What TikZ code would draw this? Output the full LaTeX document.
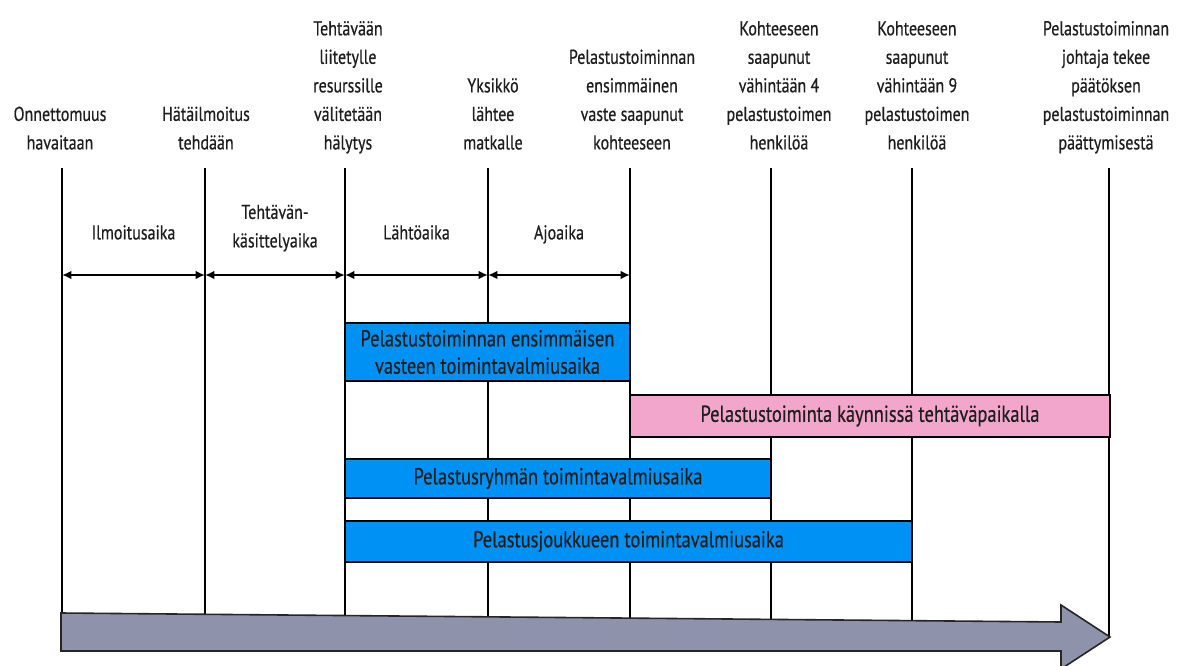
\documentclass[tikz,border=0pt]{standalone}
\usepackage{fontspec}
\setmainfont{PT Sans}[FakeStretch=0.8,FakeBold=0.5]
\usetikzlibrary{arrows.meta}
\definecolor{barblue}{RGB}{0,145,245}
\definecolor{barpink}{RGB}{243,166,204}
\definecolor{arrowgray}{RGB}{142,146,171}
\definecolor{txt}{RGB}{30,30,30}
\begin{document}
\begin{tikzpicture}[x=0.75pt,y=-0.75pt,
  lbl/.style={align=center, anchor=south, inner sep=0pt, text depth=0.25em,
    font=\fontsize{15}{21.4}\selectfont, text=txt},
  vline/.style={line width=1.6pt, black},
  dimarrow/.style={line width=1.6pt, black, {Latex[length=7pt,width=6.5pt]}-{Latex[length=7pt,width=6.5pt]}},
  barbase/.style={draw=black, line width=1.5pt, inner sep=0pt, align=center,
    font=\fontsize{17.3}{21.5}\selectfont, text=txt},
  bluebar/.style={barbase, fill=barblue},
  pinkbar/.style={barbase, fill=barpink},
  bigarrow/.style={draw=black!85, line width=1.2pt, fill=arrowgray, line join=miter}
]
\useasboundingbox (0,0) rectangle (1198,666);
\fill[white] (0,0) rectangle (1198,666);

% line tops and bottoms
\coordinate (t1) at (62,168);   \coordinate (e1) at (62,613);
\coordinate (t2) at (205,168);  \coordinate (e2) at (205,614.3);
\coordinate (t3) at (345,168);  \coordinate (e3) at (345,615.6);
\coordinate (t4) at (488,168);  \coordinate (e4) at (488,616.8);
\coordinate (t5) at (630,168);  \coordinate (e5) at (630,618.1);
\coordinate (t6) at (771,168);  \coordinate (e6) at (771,619.4);
\coordinate (t7) at (912,168);  \coordinate (e7) at (912,620.7);
\coordinate (t8) at (1109,168); \coordinate (e8) at (1109,636);

\foreach \i in {1,...,8} { \draw[vline] (t\i) -- (e\i); }

% top labels
\node[lbl] (l1) at (60,153) {Onnettomuus\\havaitaan};
\node[lbl] (l2) at (206,153) {Hätäilmoitus\\tehdään};
\node[lbl] (l3) at (348,153) {Tehtävään\\liitetylle\\resurssille\\välitetään\\hälytys};
\node[lbl] (l4) at (493,153) {Yksikkö\\lähtee\\matkalle};
\node[lbl] (l5) at (632,153) {Pelastustoiminnan\\ensimmäinen\\vaste saapunut\\kohteeseen};
\node[lbl] (l6) at (779,153) {Kohteeseen\\saapunut\\vähintään 4\\pelastustoimen\\henkilöä};
\node[lbl] (l7) at (917,153) {Kohteeseen\\saapunut\\vähintään 9\\pelastustoimen\\henkilöä};
\node[lbl] (l8) at (1106,153) {Pelastustoiminnan\\johtaja tekee\\päätöksen\\pelastustoiminnan\\päättymisestä};

% interval labels
\node[lbl] (i1) at (133.5,243) {Ilmoitusaika};
\node[lbl] (i2) at (275,251) {Tehtävän-\\käsittelyaika};
\node[lbl] (i3) at (416.5,243) {Lähtöaika};
\node[lbl] (i4) at (559,243) {Ajoaika};

% dimension arrows
\coordinate (d1) at (62,275);
\coordinate (d2) at (205,275);
\coordinate (d3) at (345,275);
\coordinate (d4) at (488,275);
\coordinate (d5) at (630,275);
\draw[dimarrow] (d1) -- (d2);
\draw[dimarrow] (d2) -- (d3);
\draw[dimarrow] (d3) -- (d4);
\draw[dimarrow] (d4) -- (d5);

% bars
\node[bluebar, minimum width=213.75pt, minimum height=43.5pt,
  font=\fontsize{17.3}{20.5}\selectfont] (b1) at (487.5,352)
  {Pelastustoiminnan ensimmäisen\\vasteen toimintavalmiusaika};
\node[pinkbar, minimum width=360pt, minimum height=31.5pt] (b2) at (870,416)
  {Pelastustoiminta käynnissä tehtäväpaikalla};
\node[bluebar, minimum width=319.5pt, minimum height=29.25pt] (b3) at (558,478.5)
  {Pelastusryhmän toimintavalmiusaika};
\node[bluebar, minimum width=425.25pt, minimum height=30.75pt] (b4) at (628.5,541.5)
  {Pelastusjoukkueen toimintavalmiusaika};

% time arrow
\draw[bigarrow] (61,613) -- (1061,622) -- (1061,605) -- (1110,637) -- (1061,669)
  -- (1061,651) -- (61,651) -- cycle;
\end{tikzpicture}
\end{document}
